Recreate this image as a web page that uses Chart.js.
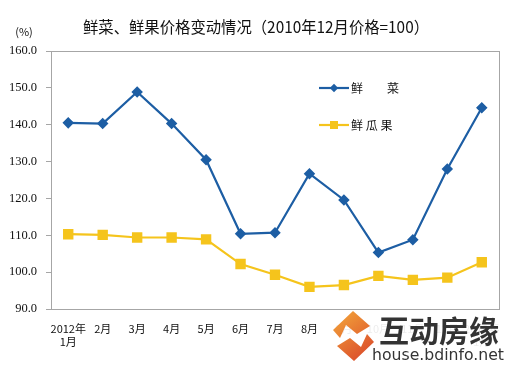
<!DOCTYPE html>
<html>
<head>
<meta charset="utf-8">
<script src="https://cdn.jsdelivr.net/npm/chart.js@4.4.1/dist/chart.umd.min.js"></script>
<style>
  html, body { margin: 0; padding: 0; background: #fff; }
  #wrap { position: relative; width: 511px; height: 366px; }
</style>
</head>
<body>
<div id="wrap"><canvas id="priceChart" width="511" height="366"></canvas></div>
<script>
const months = [
  ["2012年", "1月"], "2月", "3月", "4月", "5月", "6月", "7月",
  "8月", "9月", "10月", "11月", "12月", ["2013年", "1月"]
];
const vegetables = [140.5, 140.3, 148.9, 140.3, 130.5, 110.4, 110.7, 126.7, 119.6, 105.3, 108.8, 128.0, 144.6];
const fruits = [110.3, 110.1, 109.4, 109.4, 108.9, 102.2, 99.3, 96.0, 96.5, 99.0, 97.9, 98.5, 102.7];
const yTicks = [90, 100, 110, 120, 130, 140, 150, 160];

const blue = "#1d5ea4";
const yellow = "#f5c41c";
const cjk = "'Noto Sans CJK SC', 'Noto Sans', sans-serif";

// title, unit, legend, frame and the site watermark
const decorations = {
  id: "decorations",
  afterDraw(chart) {
    const ctx = chart.ctx;
    const area = chart.chartArea;
    ctx.save();

    ctx.strokeStyle = "#a6a6a6";
    ctx.lineWidth = 1;
    ctx.strokeRect(area.left + 0.5, area.top + 0.5, area.right - area.left, area.bottom - area.top);

    ctx.fillStyle = "#111";
    ctx.font = "16px " + cjk;
    ctx.textAlign = "center";
    ctx.textBaseline = "middle";
    ctx.fillText("鲜菜、鲜果价格变动情况（2010年12月价格=100）", 256, 27, 346);

    ctx.font = "11px " + cjk;
    ctx.fillText("(%)", 24, 32);

    // legend
    const items = [
      { label: "鲜　　菜", color: blue, marker: "diamond", y: 88 },
      { label: "鲜 瓜 果", color: yellow, marker: "square", y: 125 }
    ];
    items.forEach((item) => {
      ctx.strokeStyle = item.color;
      ctx.fillStyle = item.color;
      ctx.lineWidth = 2.2;
      ctx.beginPath();
      ctx.moveTo(319, item.y);
      ctx.lineTo(349, item.y);
      ctx.stroke();
      ctx.beginPath();
      if (item.marker === "diamond") {
        ctx.moveTo(334, item.y - 4.2);
        ctx.lineTo(338.2, item.y);
        ctx.lineTo(334, item.y + 4.2);
        ctx.lineTo(329.8, item.y);
      } else {
        ctx.rect(330, item.y - 4, 8, 8);
      }
      ctx.fill();
      ctx.fillStyle = "#111";
      ctx.font = "12px " + cjk;
      ctx.textAlign = "left";
      ctx.fillText(item.label, 351, item.y);
    });

    // watermark
    ctx.fillStyle = "rgba(255,255,255,0.92)";
    ctx.fillRect(330, 313, 181, 53);
    const grad = ctx.createLinearGradient(335, 312, 372, 360);
    grad.addColorStop(0, "#f3a63a");
    grad.addColorStop(1, "#d9452a");
    ctx.fillStyle = grad;
    ctx.beginPath();
    ctx.moveTo(353, 311);
    ctx.lineTo(370, 326);
    ctx.lineTo(357, 334);
    ctx.lineTo(346, 325);
    ctx.lineTo(340, 338);
    ctx.lineTo(333, 330);
    ctx.closePath();
    ctx.fill();
    ctx.beginPath();
    ctx.moveTo(354, 361);
    ctx.lineTo(337, 346);
    ctx.lineTo(350, 338);
    ctx.lineTo(361, 347);
    ctx.lineTo(367, 334);
    ctx.lineTo(374, 342);
    ctx.closePath();
    ctx.fill();

    ctx.fillStyle = "#333";
    ctx.textAlign = "left";
    ctx.textBaseline = "alphabetic";
    ctx.font = "bold 30px " + cjk;
    ctx.fillText("互动房缘", 379, 342, 126);
    ctx.font = "16px 'DejaVu Sans', sans-serif";
    ctx.fillText("house.bdinfo.net", 372, 360, 132);

    ctx.restore();
  }
};

new Chart(document.getElementById("priceChart"), {
  type: "line",
  data: {
    labels: months,
    datasets: [
      {
        label: "鲜菜",
        data: vegetables,
        borderColor: blue,
        backgroundColor: blue,
        borderWidth: 2.2,
        pointStyle: "rectRot",
        pointRadius: 4.2,
        pointHoverRadius: 4.2,
        tension: 0
      },
      {
        label: "鲜瓜果",
        data: fruits,
        borderColor: yellow,
        backgroundColor: yellow,
        borderWidth: 2.2,
        pointStyle: "rect",
        pointRadius: 5.8,
        pointHoverRadius: 5.8,
        tension: 0
      }
    ]
  },
  options: {
    responsive: false,
    animation: false,
    layout: {
      padding: { top: 51, right: 12, left: 0, bottom: 0 }
    },
    scales: {
      x: {
        offset: true,
        afterFit: (scale) => { scale.height = 57; },
        grid: { display: false, offset: true },
        border: { display: false },
        ticks: {
          autoSkip: false,
          maxRotation: 0,
          padding: 5,
          color: "#111",
          font: { family: cjk, size: 11 }
        }
      },
      y: {
        min: 90,
        max: 160,
        afterFit: (scale) => { scale.width = 51; },
        afterBuildTicks: (scale) => {
          scale.ticks = yTicks.map((v) => ({ value: v }));
        },
        grid: { drawOnChartArea: false, tickLength: 5, color: "#a6a6a6" },
        border: { display: false },
        ticks: {
          padding: 9,
          color: "#111",
          font: { family: "'Liberation Serif', serif", size: 12.5 },
          callback: (v) => v.toFixed(1)
        }
      }
    },
    plugins: {
      legend: { display: false },
      tooltip: { enabled: false }
    }
  },
  plugins: [decorations]
});
</script>
</body>
</html>
